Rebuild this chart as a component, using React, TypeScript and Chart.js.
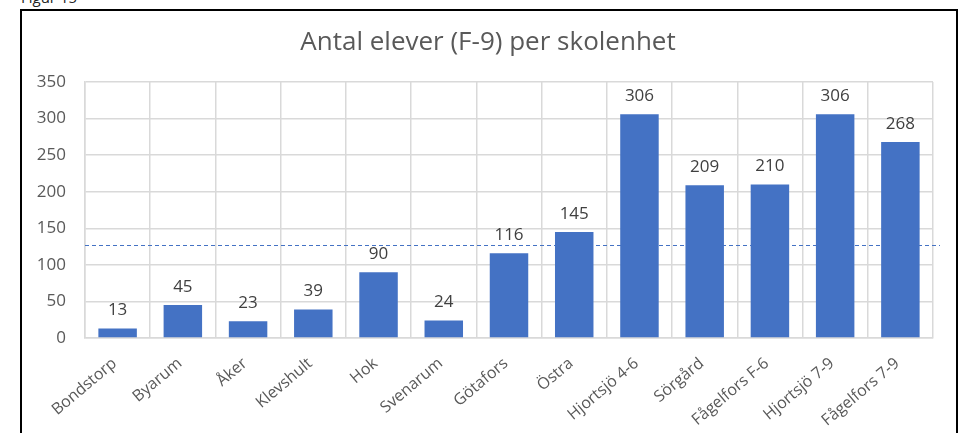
import React, { useEffect, useRef } from "react";
import { Chart, registerables } from "chart.js";

Chart.register(...registerables);

const categories = [
  "Bondstorp", "Byarum", "Åker", "Klevshult", "Hok", "Svenarum", "Götafors",
  "Östra", "Hjortsjö 4-6", "Sörgård", "Fågelfors F-6", "Hjortsjö 7-9", "Fågelfors 7-9",
];
const pupils = [13, 45, 23, 39, 90, 24, 116, 145, 306, 209, 210, 306, 268];
const averageLine = 127;
const yTicks = [0, 50, 100, 150, 200, 250, 300, 350];
const titleText = "Antal elever (F-9) per skolenhet";

const FONT = "'Open Sans', 'Noto Sans', sans-serif";
const BAR = "#4472C4";
const GRID = "#d9d9d9";
const TEXT = "#595959";

const avgPlugin = {
  id: "avgLine",
  beforeDatasetsDraw(chart: any) {
    const { ctx, chartArea, scales } = chart;
    const y = scales.y.getPixelForValue(averageLine);
    ctx.save();
    ctx.strokeStyle = BAR;
    ctx.lineWidth = 1.2;
    ctx.setLineDash([4, 3]);
    ctx.beginPath();
    ctx.moveTo(chartArea.left, Math.round(y) + 0.5);
    ctx.lineTo(chartArea.right + 7, Math.round(y) + 0.5);
    ctx.stroke();
    ctx.restore();
  },
};

const labelPlugin = {
  id: "barLabels",
  afterDatasetsDraw(chart: any) {
    const { ctx } = chart;
    const meta = chart.getDatasetMeta(0);
    ctx.save();
    ctx.font = `17px ${FONT}`;
    ctx.fillStyle = "#404040";
    ctx.textAlign = "center";
    ctx.textBaseline = "middle";
    meta.data.forEach((el: any, i: number) => {
      ctx.fillText(String(pupils[i]), el.x, el.y - 18);
    });
    ctx.restore();
  },
};

const titlePlugin = {
  id: "customTitle",
  afterDraw(chart: any) {
    const { ctx } = chart;
    ctx.save();
    ctx.font = `26px ${FONT}`;
    ctx.fillStyle = TEXT;
    ctx.textAlign = "center";
    ctx.textBaseline = "middle";
    ctx.fillText(titleText, 488, 43);
    ctx.restore();
  },
};

export default function App() {
  const ref = useRef<HTMLCanvasElement | null>(null);
  useEffect(() => {
    if (!ref.current) return;
    const chart = new Chart(ref.current, {
      type: "bar",
      data: {
        labels: categories,
        datasets: [
          {
            data: pupils,
            backgroundColor: BAR,
            barPercentage: 0.59,
            categoryPercentage: 1,
          },
        ],
      },
      options: {
        animation: false,
        responsive: false,
        maintainAspectRatio: false,
        layout: { padding: { left: 0, right: 29, top: 82, bottom: 0 } },
        plugins: {
          legend: { display: false },
          tooltip: { enabled: false },
          title: { display: false },
        },
        scales: {
          x: {
            grid: { color: GRID, lineWidth: 1.5, drawTicks: false, offset: true },
            border: { color: GRID, width: 1.5 },
            ticks: {
              color: TEXT,
              font: { family: FONT, size: 16 },
              maxRotation: 40,
              minRotation: 40,
              padding: 16,
              labelOffset: -3,
              autoSkip: false,
            },
            afterFit(scale: any) {
              scale.height = 95;
            },
          },
          y: {
            min: 0,
            max: 350,
            grid: { color: GRID, lineWidth: 1.5, drawTicks: false },
            border: { color: GRID, width: 1.5 },
            afterBuildTicks(scale: any) {
              scale.ticks = yTicks.map((v) => ({ value: v }));
            },
            ticks: {
              color: TEXT,
              font: { family: FONT, size: 17 },
              padding: 19,
            },
            afterFit(scale: any) {
              scale.width = 85;
            },
          },
        },
      },
      plugins: [avgPlugin, labelPlugin, titlePlugin],
    });
    return () => chart.destroy();
  }, []);

  return (
    <div style={{ position: "absolute", left: 0, top: 0, width: 962, height: 433, overflow: "hidden", background: "#fff" }}>
      <div style={{ position: "absolute", left: 21, top: -13, fontFamily: FONT, fontSize: 15, color: "#222" }}>Figur 15</div>
      <div style={{ position: "absolute", left: 20, top: 9, width: 938, height: 440, border: "2px solid #000", boxSizing: "border-box" }} />
      <canvas ref={ref} width={962} height={433} style={{ position: "absolute", left: 0, top: 0 }} />
    </div>
  );
}
